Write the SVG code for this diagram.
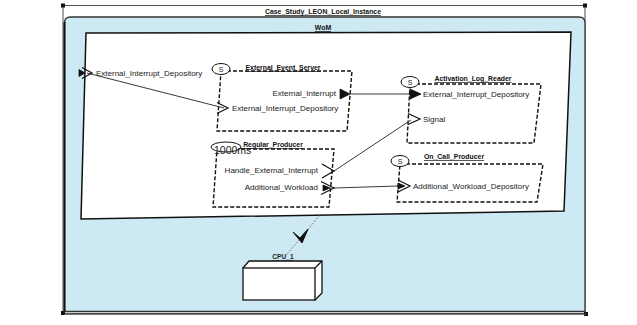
<svg xmlns="http://www.w3.org/2000/svg" width="637" height="325" viewBox="0 0 637 325">
<style>
text{font-family:"Liberation Sans",Arial,sans-serif;fill:#222}
.lbl{font-size:8px}
.nm{font-size:6.9px;font-weight:bold;text-decoration:underline;text-anchor:middle;fill:#111}
.box{fill:#fff;stroke:#111;stroke-width:1.4;stroke-dasharray:4 2}
.sc{fill:#fff;stroke:#111;stroke-width:1}
.chev{fill:none;stroke:#111;stroke-width:1.2}
.tri{fill:#111;stroke:#111;stroke-width:0.8}
.ln{fill:none;stroke:#222;stroke-width:0.9}
.handle{fill:#111}
</style>
<rect width="637" height="325" fill="#fff"/>
<g id="frame">
<rect x="63" y="5.5" width="522" height="308" fill="none" stroke="#222" stroke-width="0.8"/>
<rect x="61" y="3.5" width="4" height="4" class="handle"/>
<rect x="583" y="3.5" width="4" height="4" class="handle"/>
<rect x="61" y="311" width="4" height="4" class="handle"/>
<rect x="584" y="312" width="4" height="4" class="handle"/>
<text x="323" y="14" class="nm">Case_Study_LEON_Local_Instance</text>
</g>
<g id="node_proc">
<path d="M64.5 311.5 L64.5 23 Q64.5 17 70.5 17 L579 17 Q585 17 585 23 L585 311.5 Z" fill="#cde9f3" stroke="#333" stroke-width="1.3"/>
<line x1="64.5" y1="22" x2="64.5" y2="311.5" stroke="#111" stroke-width="2"/>
<line x1="64" y1="314.5" x2="586" y2="314.5" stroke="#555" stroke-width="0.8"/>
</g>
<g id="node_wom">
<path d="M86 33 L571 32 L564 211 L81 219 Z" fill="#fff" stroke="#111" stroke-width="1.5"/>
<text x="323" y="30" class="nm">WoM</text>
<text x="96" y="76" class="lbl">External_Interrupt_Depository</text>
</g>
<g id="node_ees">
<path d="M221 71 L352 71 L347 131 L217 131 Z" class="box"/>
<ellipse cx="221" cy="69" rx="9" ry="5.5" class="sc"/>
<text x="221" y="71.5" font-size="7" text-anchor="middle">S</text>
<text x="283" y="70" class="nm">External_Event_Server</text>
<text x="336" y="96" class="lbl" text-anchor="end">External_Interrupt</text>
<text x="232" y="111" class="lbl">External_Interrupt_Depository</text>
</g>
<g id="node_alr">
<path d="M410 84 L541 84 L534 143 L407 143 Z" class="box"/>
<ellipse cx="410" cy="82" rx="9" ry="5.5" class="sc"/>
<text x="410" y="84.5" font-size="7" text-anchor="middle">S</text>
<text x="473" y="81" class="nm">Activation_Log_Reader</text>
<text x="423" y="97" class="lbl">External_Interrupt_Depository</text>
<text x="423" y="122" class="lbl">Signal</text>
</g>
<g id="node_rp">
<path d="M217 149 L334 149 L329 207 L213 207 Z" class="box"/>
<ellipse cx="226" cy="147" rx="15" ry="5" class="sc"/>
<text x="214" y="154" font-size="10.5">1000ms</text>
<text x="273" y="147" class="nm">Regular_Producer</text>
<text x="318" y="173" class="lbl" text-anchor="end">Handle_External_Interrupt</text>
<text x="318" y="190" class="lbl" text-anchor="end">Additional_Workload</text>
</g>
<g id="node_ocp">
<path d="M400 164 L543 164 L537 202 L397 202 Z" class="box"/>
<ellipse cx="400" cy="161" rx="9" ry="5.5" class="sc"/>
<text x="400" y="163.5" font-size="7" text-anchor="middle">S</text>
<text x="454" y="159" class="nm">On_Call_Producer</text>
<text x="413" y="189" class="lbl">Additional_Workload_Depository</text>
</g>
<g id="node_cpu">
<path d="M243 268 L249 261 L322 261 L322 293 L315 300 Z" fill="#fff" stroke="#111" stroke-width="1.3" stroke-linejoin="round"/>
<rect x="243" y="268" width="72" height="32" fill="#fff" stroke="#111" stroke-width="1.3"/>
<line x1="315" y1="268" x2="322" y2="261" stroke="#111" stroke-width="1.3"/>
<text x="283" y="259" font-size="6.6" text-anchor="middle" font-weight="bold" text-decoration="underline">CPU_1</text>
</g>
<g id="connectors">
<line x1="87" y1="73" x2="224" y2="108" class="ln"/>
<line x1="350" y1="94" x2="410" y2="94" class="ln"/>
<line x1="334" y1="171" x2="411" y2="120" class="ln"/>
<line x1="334" y1="188" x2="398" y2="186" class="ln"/>
<line x1="320" y1="215" x2="283" y2="259" stroke="#555" stroke-width="0.7" stroke-dasharray="2 1.5"/>
<path d="M293 232 L300 238 L308 229 L302 243 Z" fill="#111" stroke="#111" stroke-width="1" stroke-linejoin="round"/>
<polygon points="79,69.5 85,73 79,76.5" class="tri"/>
<polyline points="82,67.5 92,73 82,78.5" class="chev"/>
<polyline points="217,102.5 228,108 217,113.5" class="chev"/>
<polygon points="340,89 350,94 340,99" class="tri"/>
<polygon points="410,89 421,94 410,99" class="tri"/>
<polyline points="408,113.5 420,119 408,124.5" class="chev"/>
<polyline points="322,164 334,171 322,178" class="chev"/>
<polygon points="323,185 330,188 323,191" class="tri"/>
<polyline points="321,181.5 334,188 321,194.5" class="chev"/>
<polygon points="398,183 405,186 398,189" class="tri"/>
<polyline points="398,180 410,186 398,192" class="chev"/>
</g>
</svg>
